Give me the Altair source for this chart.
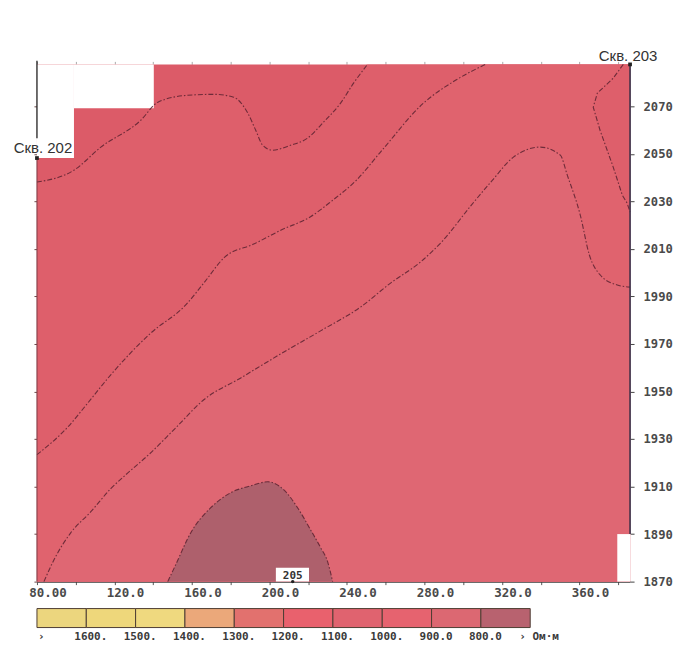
import altair as alt
import pandas as pd

# ---------------- axis extents (distance along section, absolute level) ----------
X_MIN, X_MAX = 80.0, 386.1
Y_MIN, Y_MAX = 1870.0, 2087.6
x_ticks = list(range(80, 381, 20))
x_label_values = [80, 120, 160, 200, 240, 280, 320, 360]
x_label_texts = ["80.00", "120.0", "160.0", "200.0", "240.0", "280.0", "320.0", "360.0"]
y_ticks = list(range(1870, 2071, 20))

# ---------------- section outline ----------------
# notches where the section has no data (x0, x1, y0, y1)
notch_x0 = [80.0, 99.1, 379.5]
notch_x1 = [99.1, 140.3, 386.1]
notch_y0 = [2048.2, 2069.2, 1870.0]
notch_y1 = [2087.6, 2087.6, 1890.0]

# ---------------- isolines ----------------
line1_x = [80.0, 99.1, 113.0, 133.6, 142.4, 157.8, 171.2, 181.5, 188.8, 192.9, 196.5, 201.6,
           210.9, 219.7, 227.9, 236.7, 243.4, 250.6]
line1_y = [2038.1, 2043.1, 2052.8, 2064.1, 2071.7, 2074.6, 2075.0, 2073.8, 2067.1, 2059.9, 2053.6,
           2051.5, 2053.6, 2056.6, 2063.3, 2071.3, 2079.7, 2087.6]

line2_x = [80.0, 96.0, 106.3, 118.1, 138.8, 156.8, 166.1, 176.9, 191.9, 206.3, 221.2, 232.1,
           244.9, 257.3, 279.5, 296.0, 311.4]
line2_y = [1923.4, 1935.1, 1945.2, 1957.0, 1974.6, 1986.4, 1995.6, 2006.5, 2012.0, 2018.0, 2023.5,
           2030.1, 2038.9, 2050.7, 2071.3, 2080.9, 2087.6]

line3_x = [83.6, 88.8, 97.5, 107.8, 118.1, 125.9, 138.2, 151.6, 166.1, 185.2, 205.8, 226.4, 247.0,
           262.5, 278.0, 289.3, 304.2, 315.1, 325.9, 339.8, 350.1, 353.7, 360.4, 365.1, 370.7,
           379.5, 386.1]
line3_y = [1870.0, 1879.2, 1890.6, 1899.4, 1909.1, 1915.0, 1923.8, 1934.7, 1946.5, 1955.7, 1965.8,
           1975.5, 1985.5, 1995.6, 2004.5, 2013.3, 2028.4, 2038.9, 2048.6, 2052.8, 2049.4, 2041.0,
           2024.2, 2007.4, 1999.0, 1994.8, 1993.9]

line4_x = [382.6, 377.4, 369.2, 367.1, 370.6, 377.4, 382.1, 384.6, 386.1]
line4_y = [2087.6, 2081.8, 2075.5, 2069.6, 2059.9, 2044.4, 2032.6, 2029.2, 2025.5]

dome_x = [147.5, 151.6, 159.4, 169.7, 180.0, 190.3, 199.1, 207.3, 214.5, 221.2, 226.4, 230.0, 232.6]
dome_y = [1870.0, 1877.1, 1890.6, 1901.1, 1907.4, 1910.3, 1912.0, 1908.7, 1901.1, 1891.8, 1884.3,
          1878.4, 1870.0]

# ---------------- wells ----------------
well_names = ["Скв. 202", "Скв. 203"]
well_x = [80.0, 386.1]
well_top = [2048.2, 2087.6]
stub_y0 = 2056.5          # upper part of the left border, above the well label
mid_well_name = "205"
mid_well_x = 212.0

# ---------------- colours ----------------
c_top = "#dc5b68"      # 1100-1200
c_12 = "#de5f6b"       # 1000-1100
c_23 = "#e0636e"       # 900-1000
c_low = "#df6773"      # 800-900
c_dome = "#ae606c"     # < 800

legend_colors = ["#ecd67e", "#eed77b", "#efd97f", "#eba87a", "#e2716e",
                 "#e9616d", "#e0636f", "#e6636f", "#dc6872", "#b8626f"]
legend_bounds = ["1600.", "1500.", "1400.", "1300.", "1200.", "1100.", "1000.", "900.0", "800.0"]
legend_left = "›"
legend_right = "› Ом·м"

MONO = "DejaVu Sans Mono"
SANS = "Liberation Sans"

# ================= build tables =================
xs = alt.Scale(domain=[X_MIN, X_MAX], nice=False, zero=False)
ys = alt.Scale(domain=[Y_MIN, Y_MAX], nice=False, zero=False)


def area_df(xl, yl, base):
    return pd.DataFrame({"x": xl, "y": yl, "base": [base] * len(xl)})


def pts(xl, yl, lid):
    return [{"id": lid, "seq": i, "x": a, "y": b} for i, (a, b) in enumerate(zip(xl, yl))]


base_df = pd.DataFrame({"x0": [X_MIN], "x1": [X_MAX], "y0": [Y_MIN], "y1": [Y_MAX]})
a1_df = area_df(line1_x + [X_MAX], line1_y + [Y_MAX], Y_MIN)
a2_df = area_df(line2_x + [X_MAX], line2_y + [Y_MAX], Y_MIN)
a3_df = area_df(line3_x, line3_y, Y_MIN)
dome_df = area_df(dome_x, dome_y, Y_MIN)
corner_df = pd.DataFrame({"x": line4_x, "y": line4_y, "right": [X_MAX] * len(line4_x)})

notch_df = pd.DataFrame({"x0": notch_x0, "x1": notch_x1, "y0": notch_y0, "y1": notch_y1})

iso_rows = []
iso_rows += pts(line1_x, line1_y, "l1")
iso_rows += pts(line2_x, line2_y, "l2")
iso_rows += pts(line3_x, line3_y, "l3")
iso_rows += pts(dome_x, dome_y, "l5")
iso_df = pd.DataFrame(iso_rows)
iso4_df = pd.DataFrame(pts(line4_x, line4_y, "l4"))

wells_df = pd.DataFrame({"name": well_names, "x": well_x, "top": well_top})
left_df = pd.DataFrame({"x": [well_x[0]], "y0": [Y_MIN], "y1": [well_top[0]]})
stub_df = pd.DataFrame({"x": [well_x[0]], "y0": [stub_y0], "y1": [Y_MAX + 1.5]})
right_df = pd.DataFrame({"x": [well_x[1]], "y0": [1890.0], "y1": [well_top[1]]})
mid_df = pd.DataFrame({"name": [mid_well_name], "x": [mid_well_x], "y": [Y_MIN],
                       "bx0": [mid_well_x - 8.7], "bx1": [mid_well_x + 8.4],
                       "by1": [Y_MIN + 5.8]})
xlab_df = pd.DataFrame({"v": x_label_values, "t": x_label_texts, "y": [Y_MIN] * len(x_label_values)})

# ================= axes =================
bottom_axis = alt.Axis(orient="bottom", values=x_ticks, title=None, grid=False, labels=False,
                       domain=True, domainColor="#3a3a3a", domainWidth=1.3,
                       tickColor="#555555", tickSize=3)
right_axis = alt.Axis(orient="right", values=y_ticks, title=None, grid=False, format="d",
                      domain=False, tickColor="#444444", tickSize=4, labelPadding=9,
                      labelFont=MONO, labelFontWeight="bold", labelFontSize=12.2,
                      labelColor="#4a4a4a", labelFlush=False, labelOverlap=False,
                      labelBaseline="middle")
left_axis = alt.Axis(orient="left", values=y_ticks, title=None, grid=False, labels=False,
                     domain=False, tickColor="#6a4a4a", tickSize=3)
top_axis = alt.Axis(orient="top", values=x_ticks, title=None, grid=False, labels=False,
                    domain=False, tickColor="#aaaaaa", tickSize=3)


def X(f, axis=None):
    return alt.X(f, scale=xs, axis=axis)


def Y(f, axis=None):
    return alt.Y(f, scale=ys, axis=axis)


# ================= layers =================
base = alt.Chart(base_df).mark_rect(color=c_top).encode(
    x=X("x0:Q", bottom_axis), x2="x1", y=Y("y0:Q", right_axis), y2="y1")

area1 = alt.Chart(a1_df).mark_area(color=c_12, opacity=1, interpolate="monotone").encode(
    x=X("x:Q", top_axis), y=Y("y:Q", left_axis), y2="base")
area2 = alt.Chart(a2_df).mark_area(color=c_23, opacity=1, interpolate="monotone").encode(
    x=X("x:Q"), y=Y("y:Q"), y2="base")
area3 = alt.Chart(a3_df).mark_area(color=c_low, opacity=1, interpolate="monotone").encode(
    x=X("x:Q"), y=Y("y:Q"), y2="base")
corner = alt.Chart(corner_df).mark_area(orient="horizontal", color=c_12, opacity=1).encode(
    y=Y("y:Q"), x=X("x:Q"), x2="right")
dome = alt.Chart(dome_df).mark_area(color=c_dome, opacity=1, interpolate="monotone").encode(
    x=X("x:Q"), y=Y("y:Q"), y2="base")

notches = alt.Chart(notch_df).mark_rect(color="white").encode(
    x=X("x0:Q"), x2="x1", y=Y("y0:Q"), y2="y1")

iso = alt.Chart(iso_df).mark_line(color="#5a2230", strokeWidth=1.1, opacity=0.85,
                                  strokeDash=[5, 2, 1.5, 2], interpolate="monotone").encode(
    x=X("x:Q"), y=Y("y:Q"), detail="id:N", order="seq:Q")
iso4 = alt.Chart(iso4_df).mark_line(color="#5a2230", strokeWidth=1.1, opacity=0.85,
                                    strokeDash=[5, 2, 1.5, 2]).encode(
    x=X("x:Q"), y=Y("y:Q"), order="seq:Q")

left_edge = alt.Chart(left_df).mark_rule(color="#7a3a42", strokeWidth=1).encode(
    x=X("x:Q"), y=Y("y0:Q"), y2="y1")
left_stub = alt.Chart(stub_df).mark_rule(color="#222222", strokeWidth=1.3).encode(
    x=X("x:Q"), y=Y("y0:Q"), y2="y1")
right_edge = alt.Chart(right_df).mark_rule(color="#3c3048", strokeWidth=1.6).encode(
    x=X("x:Q"), y=Y("y0:Q"), y2="y1")

well_pts = alt.Chart(wells_df).mark_square(color="#222222", size=14, opacity=1).encode(
    x=X("x:Q"), y=Y("top:Q"))

well_lbl_l = alt.Chart(wells_df.iloc[[0]]).mark_text(
    font=SANS, fontSize=15, color="#333333", baseline="alphabetic", dy=-5, dx=6).encode(
    x=X("x:Q"), y=Y("top:Q"), text="name:N")
well_lbl_r = alt.Chart(wells_df.iloc[[1]]).mark_text(
    font=SANS, fontSize=15, color="#333333", baseline="alphabetic", dy=-3, dx=-2).encode(
    x=X("x:Q"), y=Y("top:Q"), text="name:N")

mid_box = alt.Chart(mid_df).mark_rect(color="white").encode(
    x=X("bx0:Q"), x2="bx1", y=Y("y:Q"), y2="by1")
mid_txt = alt.Chart(mid_df).mark_text(font=MONO, fontWeight="bold", fontSize=11, color="#333333",
                                      baseline="bottom", dy=-1).encode(
    x=X("x:Q"), y=Y("y:Q"), text="name:N")
mid_pt = alt.Chart(mid_df).mark_circle(color="#222222", size=12, opacity=1).encode(
    x=X("x:Q"), y=Y("y:Q"))

xlabels = alt.Chart(xlab_df).mark_text(font=MONO, fontWeight="bold", fontSize=12.5,
                                       color="#4a4a4a", baseline="top", dx=11, dy=5).encode(
    x=X("v:Q"), y=Y("y:Q"), text="t:N")

main = alt.layer(base, area1, area2, area3, corner, dome, notches, iso, iso4, left_edge,
                 left_stub, right_edge, well_pts, well_lbl_l, well_lbl_r, mid_box, mid_txt,
                 mid_pt, xlabels).resolve_axis(x="independent", y="independent").properties(
    width=594, height=518)

# ================= colour legend =================
leg_df = pd.DataFrame({"i0": list(range(10)), "i1": [i + 1 for i in range(10)],
                       "c": legend_colors, "y0": [0] * 10, "y1": [1] * 10})
lx = alt.Scale(domain=[0, 10], nice=False, zero=False)
ly = alt.Scale(domain=[0, 1], nice=False, zero=False)
leg_rect = alt.Chart(leg_df).mark_rect(stroke="#4d3d33", strokeWidth=1).encode(
    x=alt.X("i0:Q", scale=lx, axis=None), x2="i1",
    y=alt.Y("y0:Q", scale=ly, axis=None), y2="y1",
    fill=alt.Fill("c:N", scale=None))

lab_df = pd.DataFrame({"pos": list(range(1, 10)), "t": legend_bounds, "y": [0] * 9})
leg_lab = alt.Chart(lab_df).mark_text(font=MONO, fontWeight="bold", fontSize=11, color="#3a3a3a",
                                      align="left", baseline="top", dx=-12, dy=3).encode(
    x=alt.X("pos:Q", scale=lx, axis=None), y=alt.Y("y:Q", scale=ly, axis=None), text="t:N")
endl_df = pd.DataFrame({"pos": [0], "t": [legend_left], "y": [0]})
endr_df = pd.DataFrame({"pos": [10], "t": [legend_right], "y": [0]})
leg_end_l = alt.Chart(endl_df).mark_text(font=MONO, fontWeight="bold", fontSize=11, color="#3a3a3a",
                                         align="left", baseline="top", dy=3, dx=1).encode(
    x=alt.X("pos:Q", scale=lx, axis=None), y=alt.Y("y:Q", scale=ly, axis=None), text="t:N")
leg_end_r = alt.Chart(endr_df).mark_text(font=MONO, fontWeight="bold", fontSize=11, color="#3a3a3a",
                                         align="left", baseline="top", dy=3, dx=-11).encode(
    x=alt.X("pos:Q", scale=lx, axis=None), y=alt.Y("y:Q", scale=ly, axis=None), text="t:N")

legend = alt.layer(leg_rect, leg_lab, leg_end_l, leg_end_r).properties(width=494, height=19)

chart = alt.vconcat(main, legend, spacing=27, bounds="flush").properties(
    padding={"left": 5, "top": 41, "right": 0, "bottom": 5}
).configure_view(stroke=None)

chart.save("out.html", embed_options={"renderer": "svg", "actions": False})
